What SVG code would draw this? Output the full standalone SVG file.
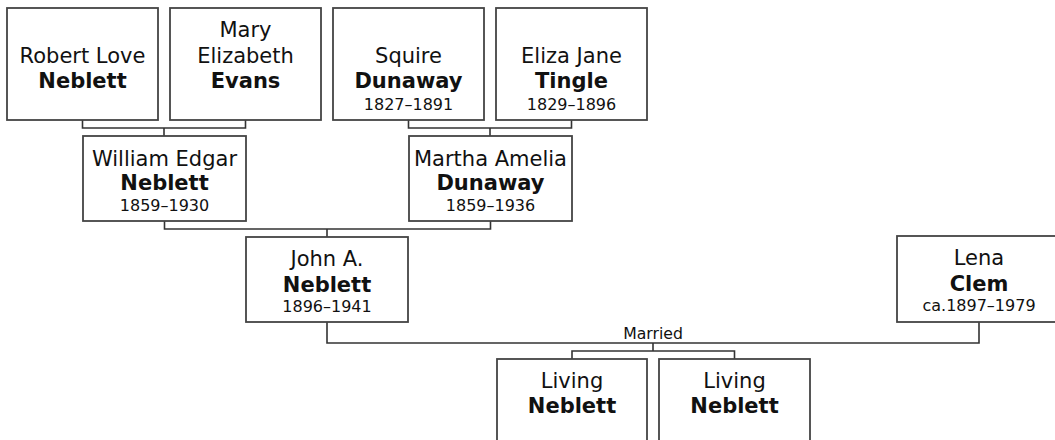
<svg xmlns="http://www.w3.org/2000/svg" width="1055" height="440" viewBox="0 0 1055 440">
<style>
.box{fill:#fff;stroke:#444;stroke-width:1.8}
.con{fill:none;stroke:#333;stroke-width:1.6}
text{font-family:"DejaVu Sans",Verdana,sans-serif;text-anchor:middle;fill:#111}
.n{font-size:21px}
.b{font-size:21px;font-weight:bold}
.d{font-size:16px}
.lbl{font-size:15.7px}
</style>
<rect width="1055" height="440" fill="#fff"/>
<g id="connectors">
<path class="con" d="M82.5 120V128H245.5V120M164 128V136"/>
<path class="con" d="M408.5 120V128H571.5V120M490 128V136"/>
<path class="con" d="M164.5 221V229H490.5V221M327 229V237"/>
<path class="con" d="M327 322V343H979V322"/>
<path class="con" d="M653 343V351M572 359V351H734.5V359"/>
<text class="lbl" x="653" y="339">Married</text>
</g>
<g id="robert">
<rect class="box" x="7" y="8" width="151" height="112"/>
<text class="n" x="82.5" y="63">Robert Love</text>
<text class="b" x="82.5" y="88">Neblett</text>
</g>
<g id="mary">
<rect class="box" x="170" y="8" width="151" height="112"/>
<text class="n" x="245.5" y="37">Mary</text>
<text class="n" x="245.5" y="63">Elizabeth</text>
<text class="b" x="245.5" y="88">Evans</text>
</g>
<g id="squire">
<rect class="box" x="333" y="8" width="151" height="112"/>
<text class="n" x="408.5" y="63">Squire</text>
<text class="b" x="408.5" y="88">Dunaway</text>
<text class="d" x="408.5" y="110">1827–1891</text>
</g>
<g id="eliza">
<rect class="box" x="496" y="8" width="151" height="112"/>
<text class="n" x="571.5" y="63">Eliza Jane</text>
<text class="b" x="571.5" y="88">Tingle</text>
<text class="d" x="571.5" y="110">1829–1896</text>
</g>
<g id="william">
<rect class="box" x="83" y="136" width="163" height="85"/>
<text class="n" x="164.5" y="166">William Edgar</text>
<text class="b" x="164.5" y="190">Neblett</text>
<text class="d" x="164.5" y="211">1859–1930</text>
</g>
<g id="martha">
<rect class="box" x="409" y="136" width="163" height="85"/>
<text class="n" x="490.5" y="166">Martha Amelia</text>
<text class="b" x="490.5" y="190">Dunaway</text>
<text class="d" x="490.5" y="211">1859–1936</text>
</g>
<g id="john">
<rect class="box" x="246" y="237" width="162" height="85"/>
<text class="n" x="327" y="266">John A.</text>
<text class="b" x="327" y="292">Neblett</text>
<text class="d" x="327" y="312">1896–1941</text>
</g>
<g id="lena">
<rect class="box" x="897" y="236" width="164" height="86"/>
<text class="n" x="979" y="265">Lena</text>
<text class="b" x="979" y="291">Clem</text>
<text class="d" x="979" y="311">ca.1897–1979</text>
</g>
<g id="living1">
<rect class="box" x="497" y="359" width="150" height="112"/>
<text class="n" x="572" y="388">Living</text>
<text class="b" x="572" y="413">Neblett</text>
</g>
<g id="living2">
<rect class="box" x="659" y="359" width="151" height="112"/>
<text class="n" x="734.5" y="388">Living</text>
<text class="b" x="734.5" y="413">Neblett</text>
</g>
</svg>
